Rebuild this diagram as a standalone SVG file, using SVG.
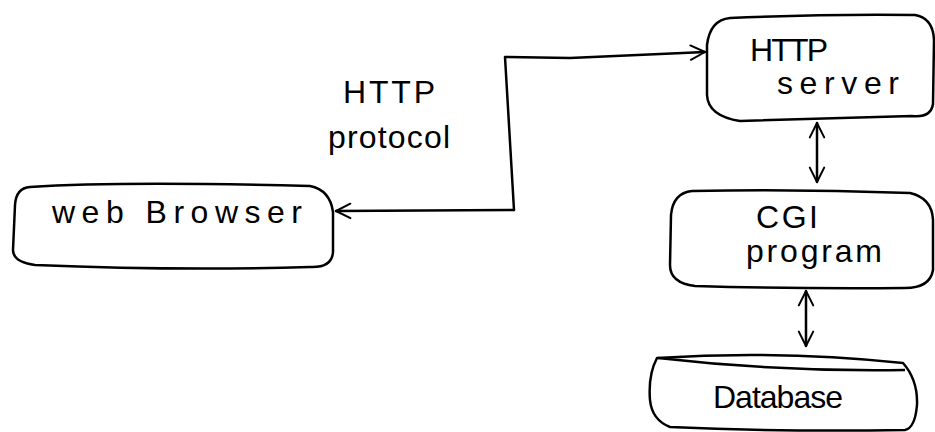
<svg xmlns="http://www.w3.org/2000/svg" width="935" height="432" viewBox="0 0 935 432">
<defs>
<style>
.box{fill:none;stroke:#000;stroke-width:2.5;stroke-linejoin:round}
.conn{fill:none;stroke:#000;stroke-width:2.5;stroke-linecap:round;stroke-linejoin:round}
.lbl{font-family:"Liberation Sans",Arial,sans-serif;font-size:32px;fill:#000}
</style>
<marker id="ah" viewBox="0 0 20 20" refX="18" refY="10" markerWidth="18" markerHeight="18" markerUnits="userSpaceOnUse" orient="auto-start-reverse">
<path d="M2,2 L18,10 L2,18" fill="none" stroke="#000" stroke-width="2.2" stroke-linecap="round" stroke-linejoin="round"/>
</marker>
</defs>
<rect width="935" height="432" fill="#fff"/>
<g id="connectors">
<path class="conn" d="M514,210 L336,211" marker-end="url(#ah)"/>
<path class="conn" d="M514,210 L505,57 L570,58 L705,52" marker-end="url(#ah)"/>
<path class="conn" d="M817,123 L817,182" marker-start="url(#ah)" marker-end="url(#ah)"/>
<path class="conn" d="M806,291 L806,346" marker-start="url(#ah)" marker-end="url(#ah)"/>
</g>
<g id="web-browser">
<path class="box" d="M30,187 Q120,181 310,186 Q330,190 333,212 L333,252 Q332,268 310,267 Q180,271 35,265 Q13,262 13,250 L15,205 Q16,188 30,187 Z"/>
<text class="lbl" x="52" y="223" font-size="34" textLength="250" lengthAdjust="spacing">web  Browser</text>
</g>
<g id="http-protocol">
<text class="lbl" x="343" y="103" textLength="92" lengthAdjust="spacing">HTTP</text>
<text class="lbl" x="328" y="148" textLength="122" lengthAdjust="spacing">protocol</text>
</g>
<g id="http-server">
<path class="box" d="M730,18 Q820,14 915,15 Q933,18 934,40 L933,104 Q931,118 912,116 Q820,119 740,121 Q708,116 707,95 L707,45 Q710,20 730,18 Z"/>
<text class="lbl" x="750" y="61" textLength="78" lengthAdjust="spacing">HTTP</text>
<text class="lbl" x="777" y="94" textLength="122" lengthAdjust="spacing">server</text>
</g>
<g id="cgi-program">
<path class="box" d="M692,191 Q800,189 910,193 Q932,198 933,220 L933,270 Q930,288 905,288 Q800,289 695,286 Q670,283 670,265 L671,215 Q673,193 692,191 Z"/>
<text class="lbl" x="756" y="228" textLength="62" lengthAdjust="spacing">CGI</text>
<text class="lbl" x="746" y="262" textLength="136" lengthAdjust="spacing">program</text>
</g>
<g id="database">
<path class="box" d="M657,358 Q780,350 903,363 Q918,380 917,405 Q915,428 905,430 Q780,432 670,427 Q652,420 650,400 Q648,375 657,358 Z"/>
<path class="box" d="M658,358 Q780,372 905,370"/>
<text class="lbl" x="713" y="408" textLength="130" lengthAdjust="spacing">Database</text>
</g>
</svg>
